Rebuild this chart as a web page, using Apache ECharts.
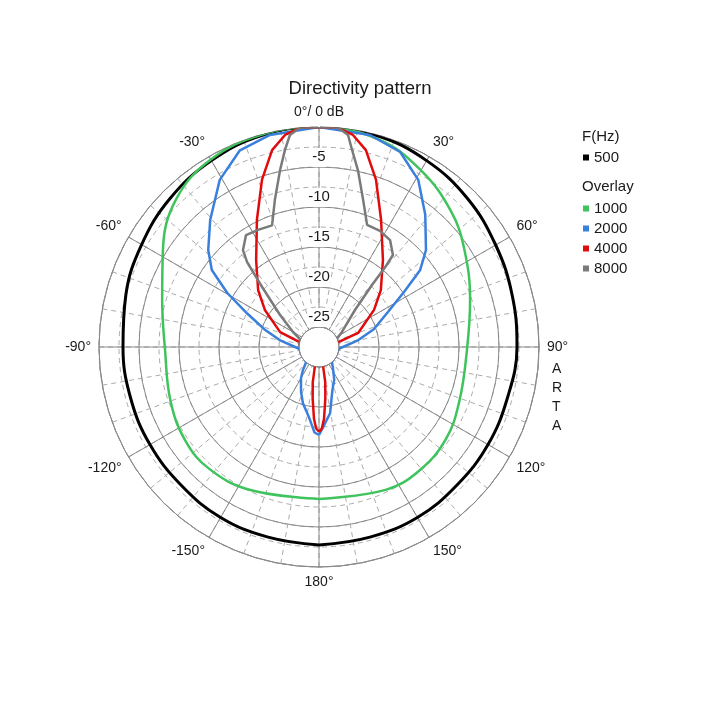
<!DOCTYPE html>
<html>
<head>
<meta charset="utf-8">
<script src="https://cdn.jsdelivr.net/npm/echarts@6/dist/echarts.min.js"></script>
<style>
  html, body { margin: 0; padding: 0; background: #fff; }
  #chart { width: 720px; height: 720px; }
</style>
</head>
<body>
<div id="chart"></div>
<script>
// [angle in degrees, level in dB]
var f500 = [[-180,-2.75],[-165,-2.9],[-150,-2.9],[-135,-3.1],[-120,-3.1],[-105,-3.1],[-90,-3],[-75,-2.5],[-60,-1.9],[-45,-1.2],[-30,-0.6],[-15,-0.1],[0,0],
  [15,-0.1],[30,-0.6],[45,-1.25],[60,-2.0],[75,-2.5],[90,-2.75],[105,-3.1],[120,-3.1],[135,-3.1],[150,-2.9],[165,-2.9],[180,-2.75]];
var f1000 = [[-180,-8.5],[-154,-7.65],[-138,-7.0],[-125,-7.1],[-110,-7.75],[-91,-8.25],[-73,-7.0],[-58,-4.5],[-44,-1.8],[-30,-0.45],[-15,0],[0,0],
  [16,-0.5],[30,-2.0],[44,-3.8],[56,-5.6],[73,-7.75],[91,-9],[111,-8.7],[126,-7.9],[141,-7.6],[155,-7.8],[180,-8.5]];
var f2000 = [[-180,-16.5],[-177,-16.8],[-173,-18.3],[-169,-19.3],[-164,-20.2],[-158,-21.5],[-150,-23],[-145,-24],[-140,-25],[-95,-25],[-80,-22.5],[-72,-20.3],
  [-65,-17.6],[-59.5,-14.2],[-54.3,-11],[-48.8,-9.1],[-40.6,-6.6],[-30.7,-3.2],[-21.9,-1.0],[-13,-0.3],[0,0],
  [13.5,-0.25],[22.6,-1.1],[30.7,-3.2],[38.8,-6.3],[47.8,-9.45],[52.7,-11.6],[57,-14.8],[63,-17.8],[72,-20.3],[80,-22.5],[95,-25],
  [140,-25],[145,-24.5],[155,-23],[163,-21.8],[170.5,-19.1],[177,-17.5],[180,-16.5]];
var f4000 = [[-180,-16.9],[-178,-17.3],[-176,-18.5],[-173,-21],[-170,-23],[-168,-25],[-76,-25],[-69,-22.3],[-55.6,-19.3],[-47,-17.1],[-35.9,-14.1],
  [-26,-9.8],[-18.8,-5.4],[-13.4,-2.2],[-9.1,-0.66],[-5,0],[0,0],[5,0],[9.1,-0.66],[13.4,-2.2],[18.8,-5.4],[26,-9.8],[36.3,-14],[47.4,-17],
  [56,-19.2],[70.3,-22.3],[76,-25],[168,-25],[170,-23],[173,-21],[176,-18.5],[178,-17.3],[180,-16.9]];
var f8000 = [[-180,-25],[-85,-25],[-68,-25],[-60,-23.75],[-50.6,-21.2],[-43.5,-17.2],[-40.3,-13.6],[-38.1,-12.1],[-33.1,-10.8],[-27.5,-11],[-21.1,-11.2],
  [-16.7,-8.3],[-12.4,-4.85],[-9.8,-2.5],[-7.8,-0.75],[-5,0],[0,0],[5,0],[7.8,-0.75],[9.5,-2.5],[12.4,-4.85],[16.7,-8.3],[21.5,-11.1],
  [27.7,-11.1],[33.6,-11.45],[38.8,-12.75],[39.6,-14.4],[40.5,-17.3],[44.2,-21.05],[56.9,-24.1],[65,-25],[180,-25]];

var freqs = ['500', '1000', '2000', '4000', '8000'];
var colors = ['#000000', '#3fc35c', '#3b7fdc', '#e00c0c', '#7a7a7a'];
var widths = [3, 2.5, 2.5, 2.5, 2.5];
var curves = [f500, f1000, f2000, f4000, f8000];

var angleTicks = [0, 30, 60, 90, 120, 150, 180, -150, -120, -90, -60, -30];
var dbTicks = [0, -5, -10, -15, -20, -25];

function toPolar(arr) {
  // polar data is [radius, angle]
  return arr.map(function (p) { return [Math.max(p[1], -25), (p[0] + 360) % 360]; });
}

var chart = echarts.init(document.getElementById('chart'));

var center = [319, 347];
var font = 'Liberation Sans, Arial, sans-serif';
var ink = '#1a1a1a';

option = {
  animation: false,
  backgroundColor: '#fff',
  title: {
    text: 'Directivity pattern',
    left: 'center',
    top: 74,
    textStyle: { fontSize: 18.5, fontWeight: 'normal', color: ink, fontFamily: font }
  },
  legend: [
    {
      data: [freqs[0]],
      left: 578, top: 145,
      icon: 'rect', itemWidth: 6, itemHeight: 6,
      textStyle: { fontSize: 15, color: ink, fontFamily: font }
    },
    {
      data: freqs.slice(1),
      orient: 'vertical',
      left: 578, top: 196,
      itemGap: 5,
      icon: 'rect', itemWidth: 6, itemHeight: 6,
      textStyle: { fontSize: 15, color: ink, fontFamily: font }
    }
  ],
  graphic: [
    { type: 'text', left: 582, top: 129, style: { text: 'F(Hz)', fontSize: 15, fill: ink, fontFamily: font } },
    { type: 'text', left: 582, top: 179, style: { text: 'Overlay', fontSize: 15, fill: ink, fontFamily: font } },
    { type: 'text', left: 552, top: 360, style: { text: 'A\nR\nT\nA', fontSize: 14, lineHeight: 19, align: 'center', fill: ink, fontFamily: font } }
  ],
  polar: [
    { center: center, radius: [20, 220] },
    { center: center, radius: [20, 220] }
  ],
  angleAxis: [
    {
      polarIndex: 0, type: 'value', min: 0, max: 360, interval: 10, startAngle: 90, clockwise: true,
      axisLine: { show: false }, axisTick: { show: false }, axisLabel: { show: false },
      splitLine: { show: true, lineStyle: { color: '#ababab', type: [5, 4], width: 1 } }
    },
    {
      polarIndex: 1, type: 'value', min: 0, max: 360, interval: 30, startAngle: 90, clockwise: true,
      axisLine: { show: true, lineStyle: { color: '#8a8a8a', width: 1 } },
      axisTick: { show: false },
      axisLabel: {
        margin: 8, fontSize: 14, color: ink, fontFamily: font,
        formatter: function (v) {
          if (v === 360) return '';
          var a = v > 180 ? v - 360 : v;
          var i = angleTicks.indexOf(a);
          if (i === 0) return '0°/ 0 dB';
          return angleTicks[i] + '°';
        }
      },
      splitLine: { show: true, lineStyle: { color: '#8a8a8a', width: 1 } }
    }
  ],
  radiusAxis: [
    {
      polarIndex: 0, type: 'value', min: -25, max: 0, interval: 2.5,
      axisLine: { show: false }, axisTick: { show: false }, axisLabel: { show: false },
      splitLine: { show: true, lineStyle: { color: '#ababab', type: [5, 4], width: 1 } }
    },
    {
      polarIndex: 1, type: 'value', min: -25, max: 0, interval: 5,
      axisLine: { show: false }, axisTick: { show: false },
      axisLabel: {
        margin: 0, align: 'center', verticalAlign: 'bottom',
        fontSize: 15, color: ink, fontFamily: font,
        backgroundColor: '#fff', padding: [1, 1, 3, 1],
        formatter: function (v) { return dbTicks.indexOf(v) > 0 ? String(v) : ''; }
      },
      splitLine: { show: true, lineStyle: { color: '#8a8a8a', width: 1 } }
    }
  ],
  series: curves.map(function (c, i) {
    return {
      name: freqs[i],
      type: 'line',
      coordinateSystem: 'polar',
      polarIndex: 1,
      data: toPolar(c),
      symbol: 'none',
      smooth: i < 2 ? 0.4 : false,
      itemStyle: { color: colors[i] },
      lineStyle: { color: colors[i], width: widths[i] }
    };
  })
};

chart.setOption(option);
</script>
</body>
</html>
